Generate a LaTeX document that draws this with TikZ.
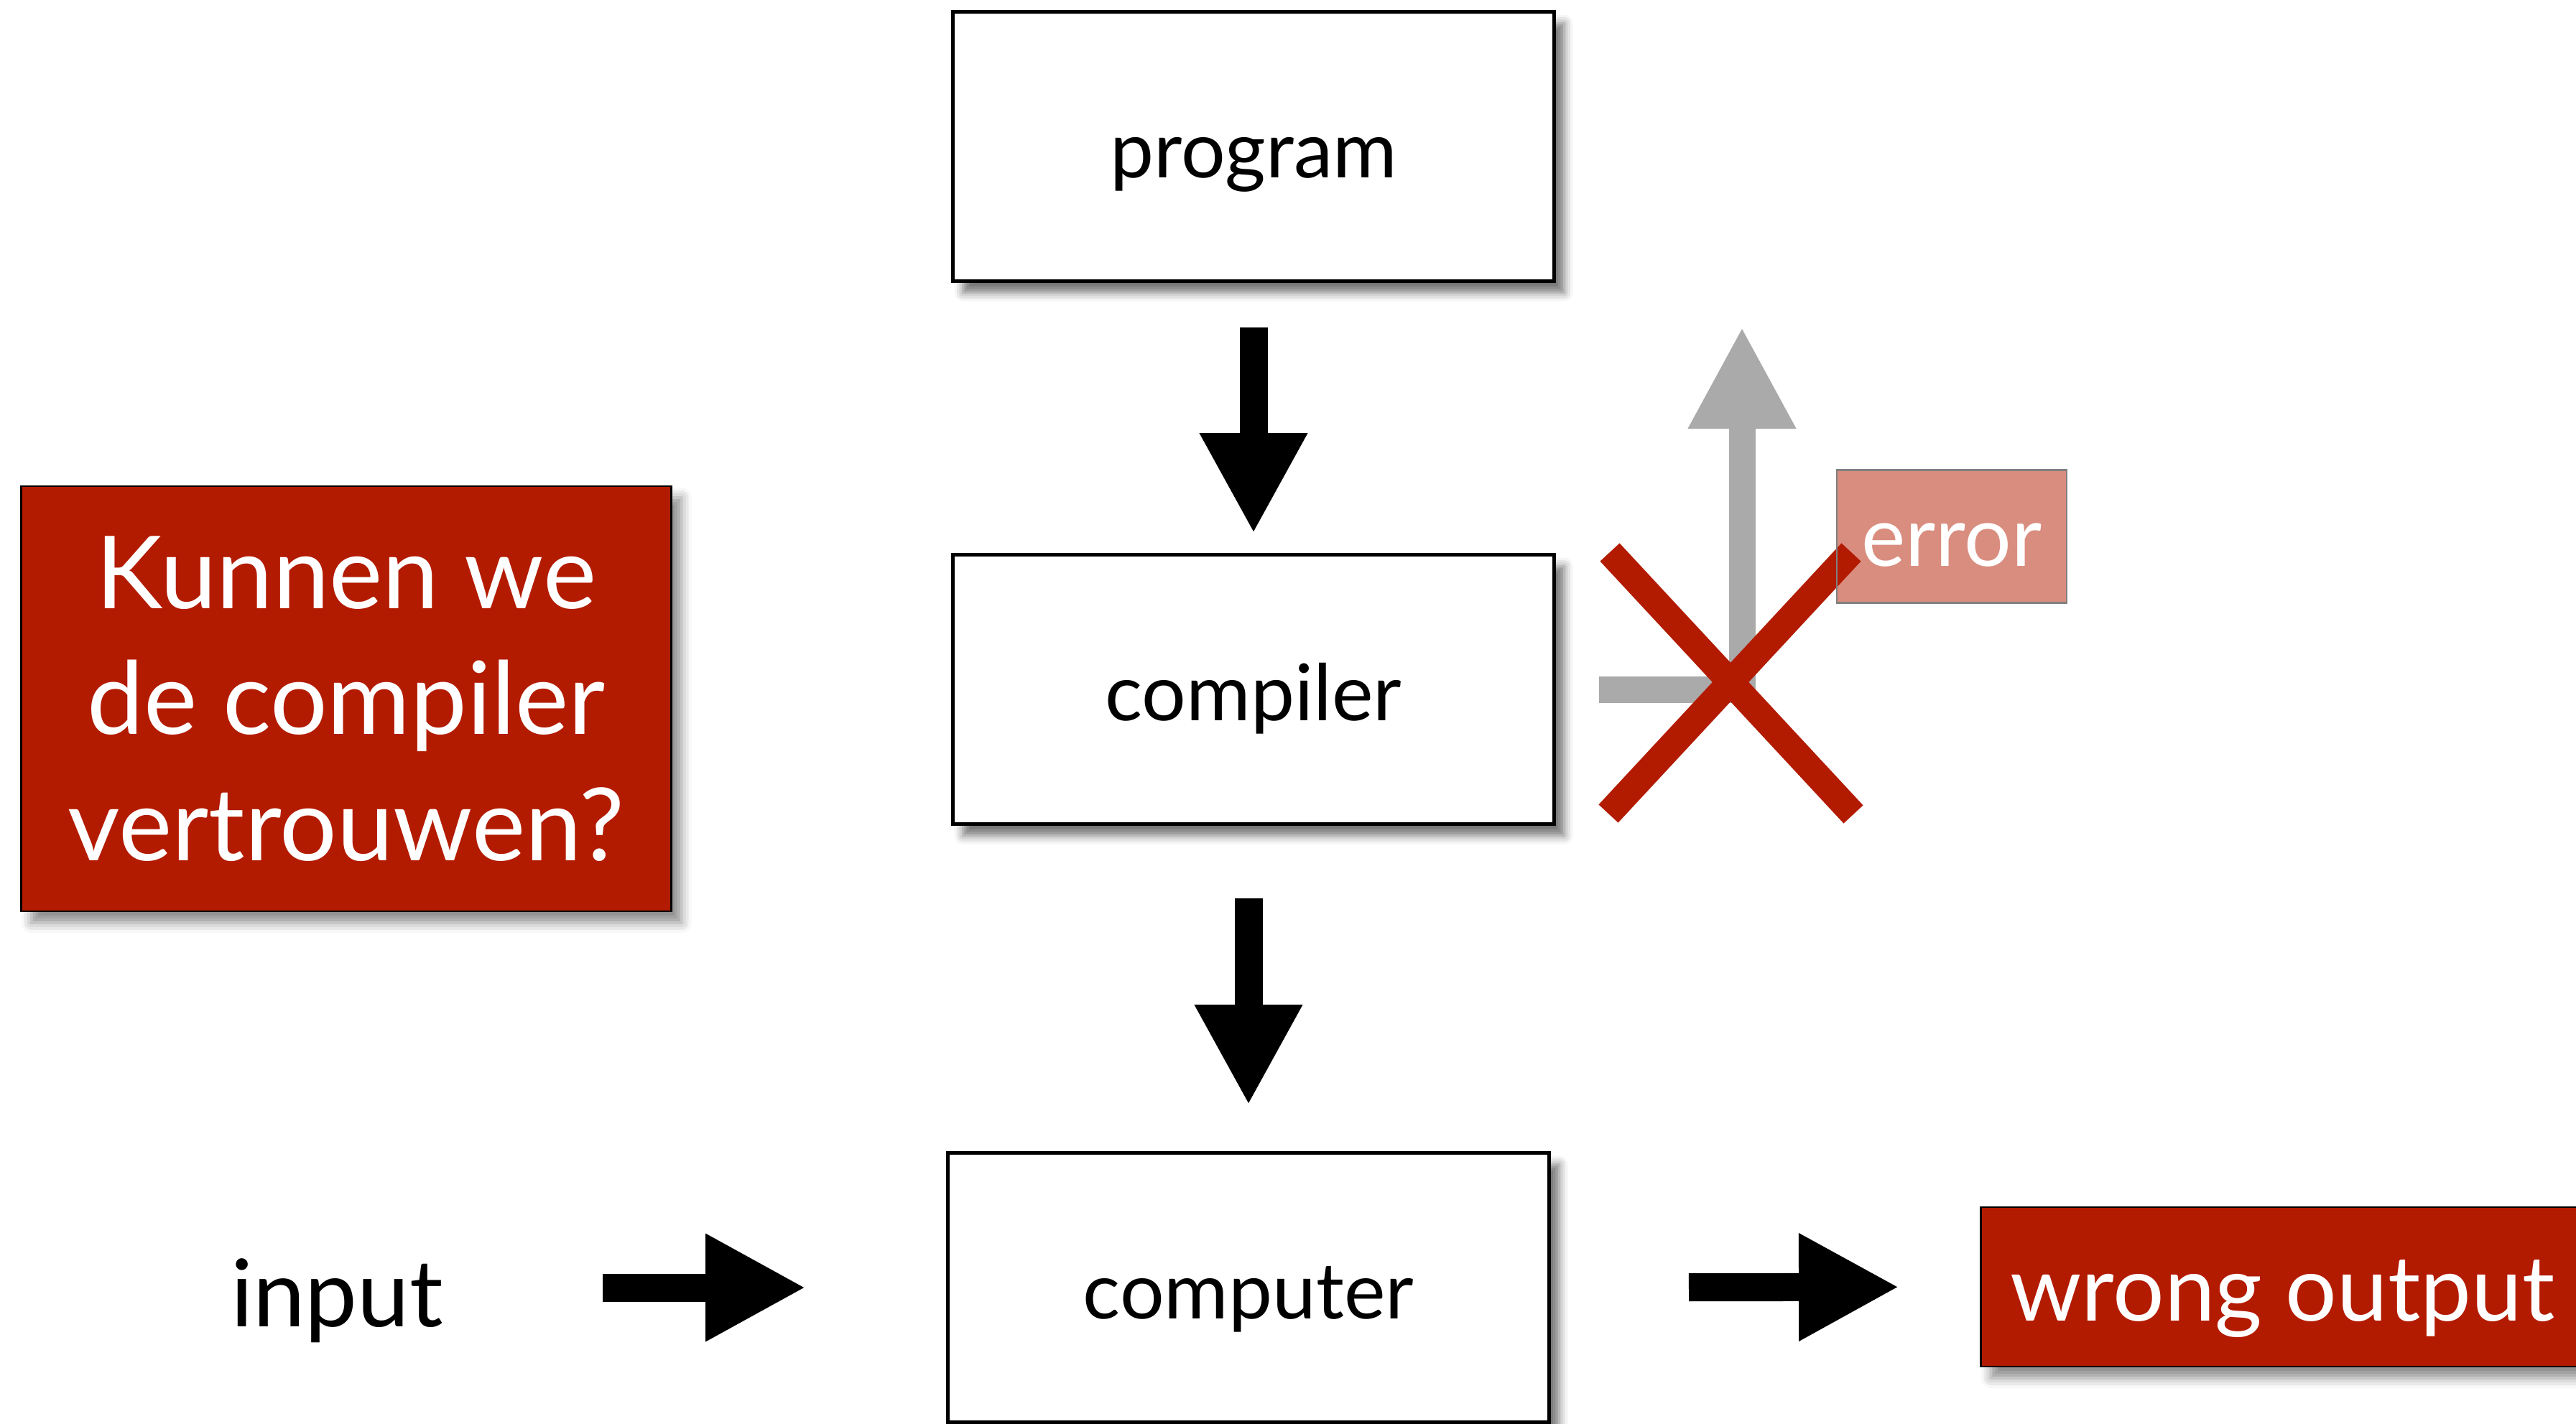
\documentclass[tikz,border=0pt]{standalone}
\usepackage{fontspec}
\setmainfont{Lato}
\usepackage{tikz}
\usetikzlibrary{arrows.meta,positioning,shadows,shadows.blur,calc}
\definecolor{slidered}{HTML}{B31B00}
\definecolor{arrowgray}{HTML}{AAAAAA}
\definecolor{edgegray}{HTML}{808080}

\begin{document}
\begin{tikzpicture}[
  stagebox/.style={draw=black, line width=1.4pt, fill=white, minimum width=8.37cm, minimum height=3.75cm,
    font=\fontsize{31}{36}\selectfont, text height=0.86cm, text depth=0cm,
    blur shadow={shadow xshift=0.14cm, shadow yshift=-0.16cm, shadow blur radius=0.12cm, shadow opacity=55}},
  redbox/.style={draw=black, line width=0.8pt, fill=slidered, text=white,
    blur shadow={shadow xshift=0.14cm, shadow yshift=-0.16cm, shadow blur radius=0.14cm, shadow opacity=45}},
  bigarrow/.style={line width=0.39cm, draw=black, -{Triangle[length=1.4cm, width=1.4cm]}},
  grayarrow/.style={line width=0.37cm, draw=arrowgray, line join=miter, -{Triangle[length=1.42cm, width=1.4cm]}},
  cross/.style={line width=0.37cm, draw=slidered}
]
  \useasboundingbox (0,0) rectangle (35.86,-19.82);

  % the three stages
  \node[stagebox] (program) at (17.45,-2.04) {program};
  \node[stagebox] (compiler) at (17.45,-9.60) {compiler};
  \node[stagebox] (computer) at (17.38,-17.93) {computer};

  % question on the left
  \node[redbox, minimum width=9.05cm, minimum height=5.92cm, align=center,
    font=\fontsize{40}{50}\selectfont] (question) at (4.82,-9.73)
    {Kunnen we\\de compiler\\vertrouwen?};

  \node[anchor=base, font=\fontsize{37}{42}\selectfont] (input) at (4.69,-18.47) {input};
  \node[redbox, anchor=west, minimum width=8.4cm, minimum height=2.22cm, text height=0.94cm, text depth=0cm,
    font=\fontsize{36}{42}\selectfont] (wrong) at (27.56,-17.92) {wrong output};

  % main flow
  \draw[bigarrow, shorten <=0.62cm, shorten >=0.27cm] (program.south) -- (compiler.north);
  \draw[bigarrow, shorten <=1.01cm, shorten >=0.64cm] (compiler.south -| computer.north) -- (computer.north);
  \draw[bigarrow, shorten <=2.10cm, shorten >=1.95cm] (input.east |- computer.west) -- (computer.west);
  \draw[bigarrow, shorten <=1.92cm, shorten >=1.12cm] (computer.east) -- (wrong.west);

  % error path, crossed out
  \coordinate (errtip) at (24.25,-4.55);
  \draw[grayarrow, shorten <=0.60cm] (compiler.east) -| (errtip);
  \draw[cross] (22.41,-7.69) -- (25.80,-11.34);
  \draw[cross] (22.39,-11.33) -- (25.77,-7.69);
  \node[draw=edgegray, line width=0.7pt, fill=slidered, fill opacity=0.5, text opacity=1, text=white,
    minimum width=3.20cm, minimum height=1.85cm, text height=0.82cm, text depth=0cm,
    font=\fontsize{33}{38}\selectfont] (error) at (27.17,-7.47) {error};
\end{tikzpicture}
\end{document}
